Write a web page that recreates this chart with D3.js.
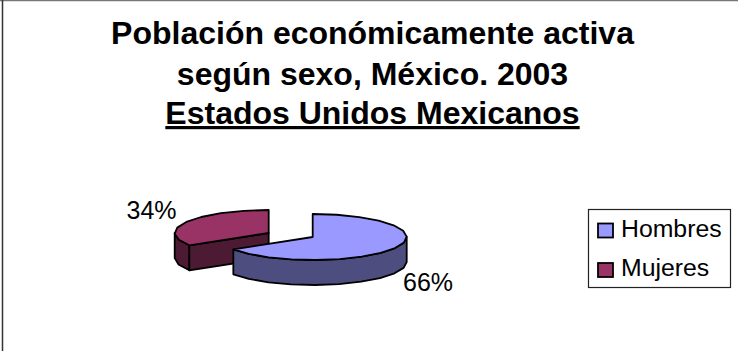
<!DOCTYPE html>
<html>
<head>
<meta charset="utf-8">
<script src="https://cdn.jsdelivr.net/npm/d3@7"></script>
<style>
html,body{margin:0;padding:0;background:#fff}
svg{display:block}
text{font-family:"Liberation Sans",Arial,sans-serif;fill:#000}
</style>
</head>
<body>
<svg id="chart" width="738" height="351"></svg>
<script>
const categories = ["Hombres", "Mujeres"];
const shares = [66, 34];
const labels = ["66%", "34%"];
const titleLines = ["Población económicamente activa", "según sexo, México. 2003", "Estados Unidos Mexicanos"];
const topColors = ["#9999ff", "#993366"];
const wallColors = ["#4d4d80", "#4d1a33"];

const svg = d3.select("#chart");
const H = 351, W = 738;

// Frame: only the top and left edges of the chart area fall inside the page
svg.append("line").attr("x1", 0).attr("x2", W).attr("y1", 0.5).attr("y2", 0.5)
  .attr("stroke", "#777").attr("stroke-width", 1.5);
svg.append("line").attr("x1", 2.5).attr("x2", 2.5).attr("y1", 0).attr("y2", H)
  .attr("stroke", "#333").attr("stroke-width", 1.5);

// Title
const titleY = [44, 84.5, 124];
svg.selectAll("text.title").data(titleLines).join("text")
  .attr("class", "title")
  .attr("x", 372.5).attr("y", (d, i) => titleY[i])
  .attr("text-anchor", "middle")
  .attr("font-size", 32).attr("font-weight", "bold")
  .attr("text-decoration", (d, i) => i === 2 ? "underline" : null)
  .text(d => d);

// Tilted pie geometry
const rx = 94, ry = 23, depth = 25;
const centers = [[312.7, 237], [268.7, 233]];
const arcs = d3.pie().sort(null)(shares);
const color = d3.scaleOrdinal(categories, topColors);
const wall = d3.scaleOrdinal(categories, wallColors);

const project = (c, t, dy = 0) => [c[0] + rx * Math.sin(t), c[1] - ry * Math.cos(t) + dy];

// Faceted rim points between two angles
function rim(c, a0, a1, dy = 0) {
  const step = Math.PI / 12;
  const n = Math.max(1, Math.round(Math.abs(a1 - a0) / step));
  return d3.range(n + 1).map(i => project(c, a0 + (a1 - a0) * i / n, dy));
}
const line = d3.line();
const closed = pts => line(pts) + "Z";

const order = [1, 0];   // the rear slice is painted first
const g = svg.append("g").attr("stroke", "#000").attr("stroke-width", 1.8).attr("stroke-linejoin", "round");

order.forEach(i => {
  const a = arcs[i], c = centers[i], cat = categories[i];
  const from = Math.max(a.startAngle, Math.PI / 2);
  const to = Math.min(a.endAngle, 3 * Math.PI / 2);
  // Outer wall on the near half of the rim
  if (to > from) {
    g.append("path").attr("fill", wall(cat))
      .attr("d", closed(rim(c, from, to).concat(rim(c, to, from, depth))));
  }
  // Cut face of the slice whose start edge lies on the left of the pie
  if (a.startAngle > Math.PI) {
    const s = project(c, a.startAngle);
    g.append("path").attr("fill", wall(cat))
      .attr("d", closed([c, s, [s[0], s[1] + depth], [c[0], c[1] + depth]]));
  }
  // Top surface
  g.append("path").attr("fill", color(cat))
    .attr("d", closed([c].concat(rim(c, a.startAngle, a.endAngle))));
});

// Percentage labels
const labelPos = [[403, 291], [126.5, 218.5]];
svg.selectAll("text.pct").data(labels).join("text")
  .attr("class", "pct")
  .attr("x", (d, i) => labelPos[i][0]).attr("y", (d, i) => labelPos[i][1])
  .attr("font-size", 25)
  .text(d => d);

// Legend
svg.append("rect").attr("x", 588.5).attr("y", 209.5).attr("width", 142).attr("height", 78)
  .attr("fill", "#fff").attr("stroke", "#222").attr("stroke-width", 1.2);
const legendY = d3.scalePoint(categories, [230.5, 270]);
const item = svg.selectAll("g.item").data(categories).join("g").attr("class", "item")
  .attr("transform", d => `translate(0,${legendY(d)})`);
item.append("rect").attr("x", 598).attr("y", -7).attr("width", 15).attr("height", 14)
  .attr("fill", d => color(d)).attr("stroke", "#000").attr("stroke-width", 1.8);
item.append("text").attr("x", 621).attr("y", 6.3).attr("font-size", 24.8).text(d => d);
</script>
</body>
</html>
